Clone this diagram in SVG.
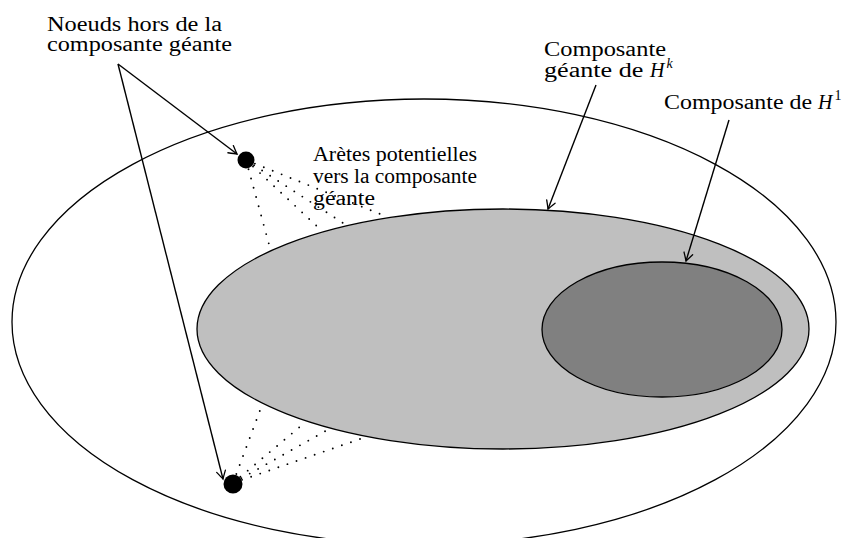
<svg xmlns="http://www.w3.org/2000/svg" width="853" height="538" viewBox="0 0 853 538">
<defs>
<style>
.t{font-family:"Liberation Serif","Times New Roman",serif;font-size:20px;fill:#000}
.it{font-style:italic}
.sup{font-size:14px}
.el{stroke:#000;stroke-width:1.3}
.ar{fill:none;stroke:#000;stroke-width:1.4;marker-end:url(#to)}
.dot{fill:none;stroke:#000;stroke-width:1.9;stroke-linecap:round;stroke-dasharray:0 9.6}
</style>
<marker id="to" viewBox="-10 -6 12 12" refX="0" refY="0" markerWidth="12" markerHeight="12" markerUnits="userSpaceOnUse" orient="auto">
<path d="M-8,-4.5 Q-2,-1 0,0 Q-2,1 -8,4.5" fill="none" stroke="#000" stroke-width="1.3" stroke-linecap="round"/>
</marker>
</defs>
<g id="outer"><ellipse class="el" cx="424" cy="322" rx="412" ry="223" fill="#fff"/></g>
<g id="giant"><ellipse class="el" cx="503" cy="329" rx="306" ry="120" fill="#bfbfbf"/></g>
<g id="h1"><ellipse class="el" cx="662" cy="329.5" rx="120" ry="67.5" fill="#808080"/></g>
<g id="connectors">
<path class="dot" d="M246,160 L270,248"/>
<path class="dot" d="M246,160 L321,230"/>
<path class="dot" d="M246,160 L346,225"/>
<path class="dot" d="M246,160 L380,214"/>
<path class="dot" d="M233,483 L262,405"/>
<path class="dot" d="M233,483 L302,425"/>
<path class="dot" d="M233,483 L329,429"/>
<path class="dot" d="M233,483 L363,438"/>
<path class="ar" d="M118,64 L237,154"/>
<path class="ar" d="M118,64 L223,479"/>
<path class="ar" d="M596,85 L548,209"/>
<path class="ar" d="M729,120 L686,261"/>
</g>
<g id="node-top"><circle cx="246" cy="160" r="8.5" fill="#000"/></g>
<g id="node-bottom"><circle cx="233" cy="484" r="9.5" fill="#000"/></g>
<g id="label-noeuds">
<text class="t" x="47" y="31" textLength="175" lengthAdjust="spacingAndGlyphs">Noeuds hors de la</text>
<text class="t" x="47" y="51" textLength="185" lengthAdjust="spacingAndGlyphs">composante géante</text>
</g>
<g id="label-giant">
<text class="t" x="544" y="56" textLength="122" lengthAdjust="spacingAndGlyphs">Composante</text>
<text class="t" x="544" y="77"><tspan textLength="106" lengthAdjust="spacingAndGlyphs">géante de </tspan><tspan class="it">H</tspan><tspan class="it sup" dx="2" dy="-9">k</tspan></text>
</g>
<g id="label-h1">
<text class="t" x="664" y="109"><tspan textLength="154" lengthAdjust="spacingAndGlyphs">Composante de </tspan><tspan class="it">H</tspan><tspan class="sup" dx="2" dy="-9">1</tspan></text>
</g>
<g id="label-edges">
<text class="t" x="313" y="161" textLength="164" lengthAdjust="spacingAndGlyphs">Arètes potentielles</text>
<text class="t" x="313" y="183" textLength="164" lengthAdjust="spacingAndGlyphs">vers la composante</text>
<text class="t" x="313" y="205" textLength="62" lengthAdjust="spacingAndGlyphs">géante</text>
</g>
</svg>
